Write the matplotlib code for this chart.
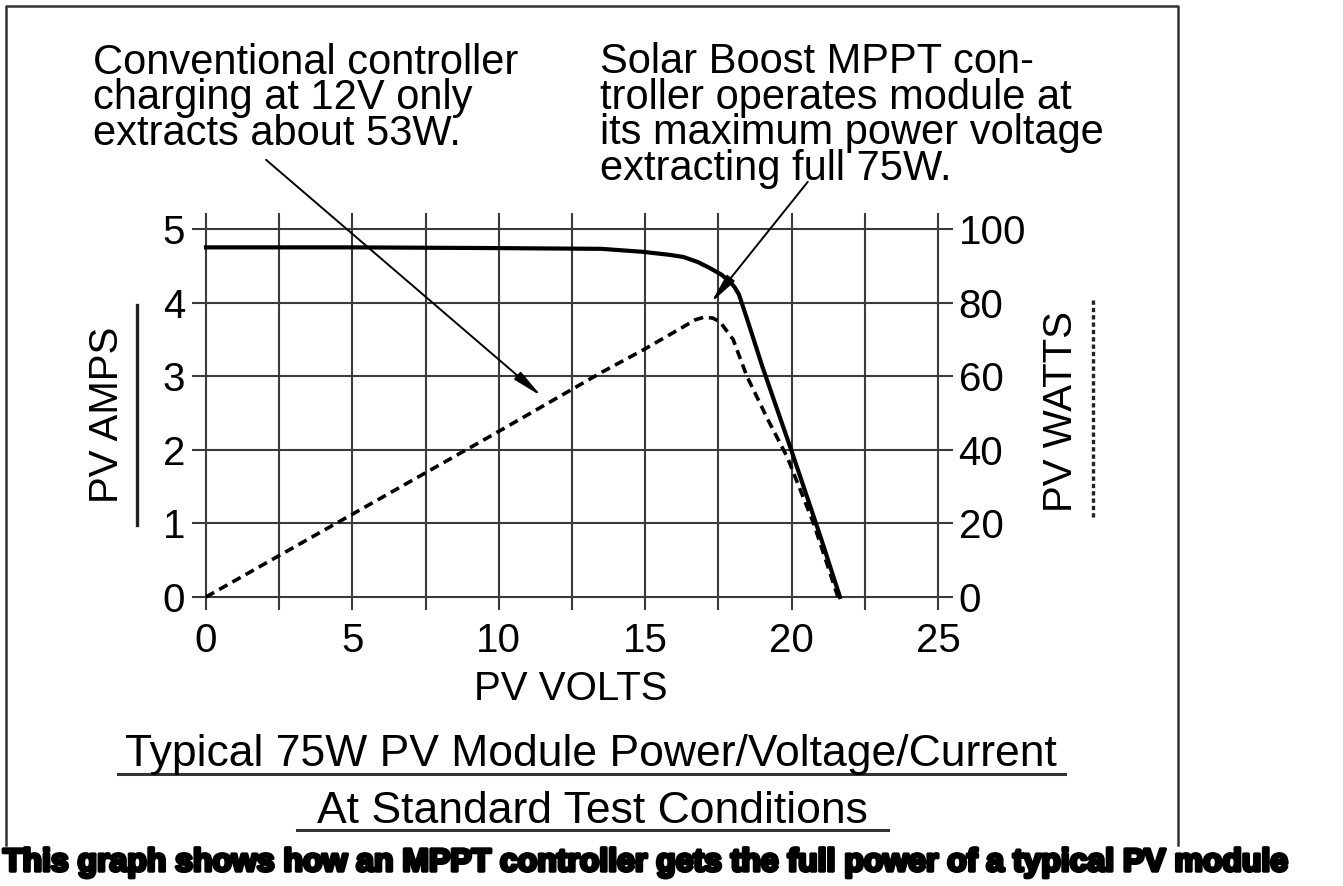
import matplotlib
matplotlib.use("Agg")
import matplotlib.pyplot as plt
import matplotlib.patheffects as pe
from matplotlib.lines import Line2D

# I-V curve of the module
volts_i = [0, 5, 10, 13.5, 14.9, 15.8, 16.3, 16.8, 17.2, 17.6, 17.9, 18.05, 18.2, 18.5, 19.0, 20.0, 21.0, 21.65]
amps = [4.75, 4.75, 4.74, 4.73, 4.69, 4.65, 4.62, 4.55, 4.47, 4.38, 4.28, 4.21, 4.11, 3.75, 3.13, 1.98, 0.8, 0.0]

# P-V curve
volts_p = [0, 5, 10, 13.5, 14.9, 16.3, 16.7, 17.0, 17.3, 17.55, 18.0, 18.47, 19.2, 19.85, 20.75, 21.58]
watts = [0, 22.5, 45, 61, 67, 73.4, 75.3, 76, 75.8, 74.8, 70, 60, 48, 38, 20, 0]

x_major = [0, 5, 10, 15, 20, 25]
x_minor = [2.5, 7.5, 12.5, 17.5, 22.5]
amp_ticks = [0, 1, 2, 3, 4, 5]
watt_ticks = [0, 20, 40, 60, 80, 100]

note_left = "Conventional controller\ncharging at 12V only\nextracts about 53W."
note_right = ("Solar Boost MPPT con-\ntroller operates module at\n"
              "its maximum power voltage\nextracting full 75W.")
title1 = "Typical 75W PV Module Power/Voltage/Current"
title2 = "At Standard Test Conditions"
caption = "This graph shows how an MPPT controller gets the full power of a typical PV module"

plt.rcParams['font.family'] = ['Liberation Sans', 'DejaVu Sans']

W, H = 1343, 886
fig = plt.figure(figsize=(W / 100, H / 100), dpi=100)
fig.patch.set_facecolor('white')


def fx(px):
    return px / W


def fy(py):
    return 1 - py / H


grid_c = '#3a3a3a'

ax = fig.add_axes([fx(192), fy(610), (953 - 192) / W, (610 - 213) / H])
ax.set_xlim(-0.478, 25.51)
ax.set_ylim(-0.177, 5.217)
ax.set_xticks(x_major)
ax.set_xticks(x_minor, minor=True)
ax.set_yticks(amp_ticks)
ax.grid(which='both', color=grid_c, lw=1.5)
ax.tick_params(which='both', length=0)
ax.tick_params(axis='x', labelsize=29, pad=9)
ax.tick_params(axis='y', labelsize=29, pad=5)
for s in ax.spines.values():
    s.set_visible(False)

ax2 = ax.twinx()
ax2.set_ylim(-0.177 * 20, 5.217 * 20)
ax2.set_yticks(watt_ticks)
ax2.tick_params(length=0, labelsize=29, pad=4)
for s in ax2.spines.values():
    s.set_visible(False)

ax.plot(volts_i, amps, color='black', lw=3.0, solid_joinstyle='round', zorder=3)
ax2.plot(volts_p, watts, color='black', lw=2.6, linestyle=(0, (2.6, 1.6)),
         dash_joinstyle='round', zorder=3)

# callout arrows
arrow = dict(arrowstyle='-|>,head_length=1.8,head_width=0.3', lw=1.4,
             color='black', shrinkA=0, shrinkB=0)
ax.annotate('', xy=(11.45, 2.73), xytext=(2.05, 5.94), arrowprops=arrow,
            annotation_clip=False)
ax.annotate('', xy=(17.25, 4.0), xytext=(20.55, 5.64), arrowprops=arrow,
            annotation_clip=False)

# va='baseline' on multi-line text anchors the last line
fig.text(fx(93), fy(145), note_left, fontsize=30, ha='left', va='baseline',
         linespacing=0.86, multialignment='left')
fig.text(fx(600), fy(180), note_right, fontsize=30, ha='left', va='baseline',
         linespacing=0.86, multialignment='left')

# axis titles
fig.text(fx(571), fy(700), "PV VOLTS", fontsize=29, ha='center', va='baseline')
fig.text(fx(107), fy(415), "PV AMPS", fontsize=29, ha='center', va='center',
         rotation=90)
fig.text(fx(1061), fy(412), "PV WATTS", fontsize=29, ha='center', va='center',
         rotation=90)
fig.add_artist(Line2D([fx(137), fx(137)], [fy(305), fy(525)], color='#222222',
                      lw=2.4, transform=fig.transFigure))
fig.add_artist(Line2D([fx(1093), fx(1093)], [fy(300), fy(520)], color='#222222',
                      lw=2.4, linestyle=(0, (1.3, 0.9)), transform=fig.transFigure))

# underlined title
fig.text(fx(591), fy(766), title1, fontsize=32, ha='center', va='baseline')
fig.add_artist(Line2D([fx(118), fx(1065)], [fy(774), fy(774)], color='#333333',
                      lw=2.2, transform=fig.transFigure))
fig.text(fx(592), fy(823), title2, fontsize=32, ha='center', va='baseline')
fig.add_artist(Line2D([fx(297), fx(888)], [fy(830), fy(830)], color='#333333',
                      lw=2.2, transform=fig.transFigure))

# frame around the figure
fig.add_artist(Line2D([fx(6), fx(6), fx(1178), fx(1178)],
                      [fy(845), fy(6), fy(6), fy(845)], color='#333333', lw=1.8,
                      transform=fig.transFigure))

# dense caption strip at the bottom
fig.text(fx(3), fy(871), caption, fontsize=23, fontweight='bold',
         ha='left', va='baseline', color='black',
         path_effects=[pe.withStroke(linewidth=2.5, foreground='black')])

fig.savefig('out.png', dpi=100, facecolor='white')
